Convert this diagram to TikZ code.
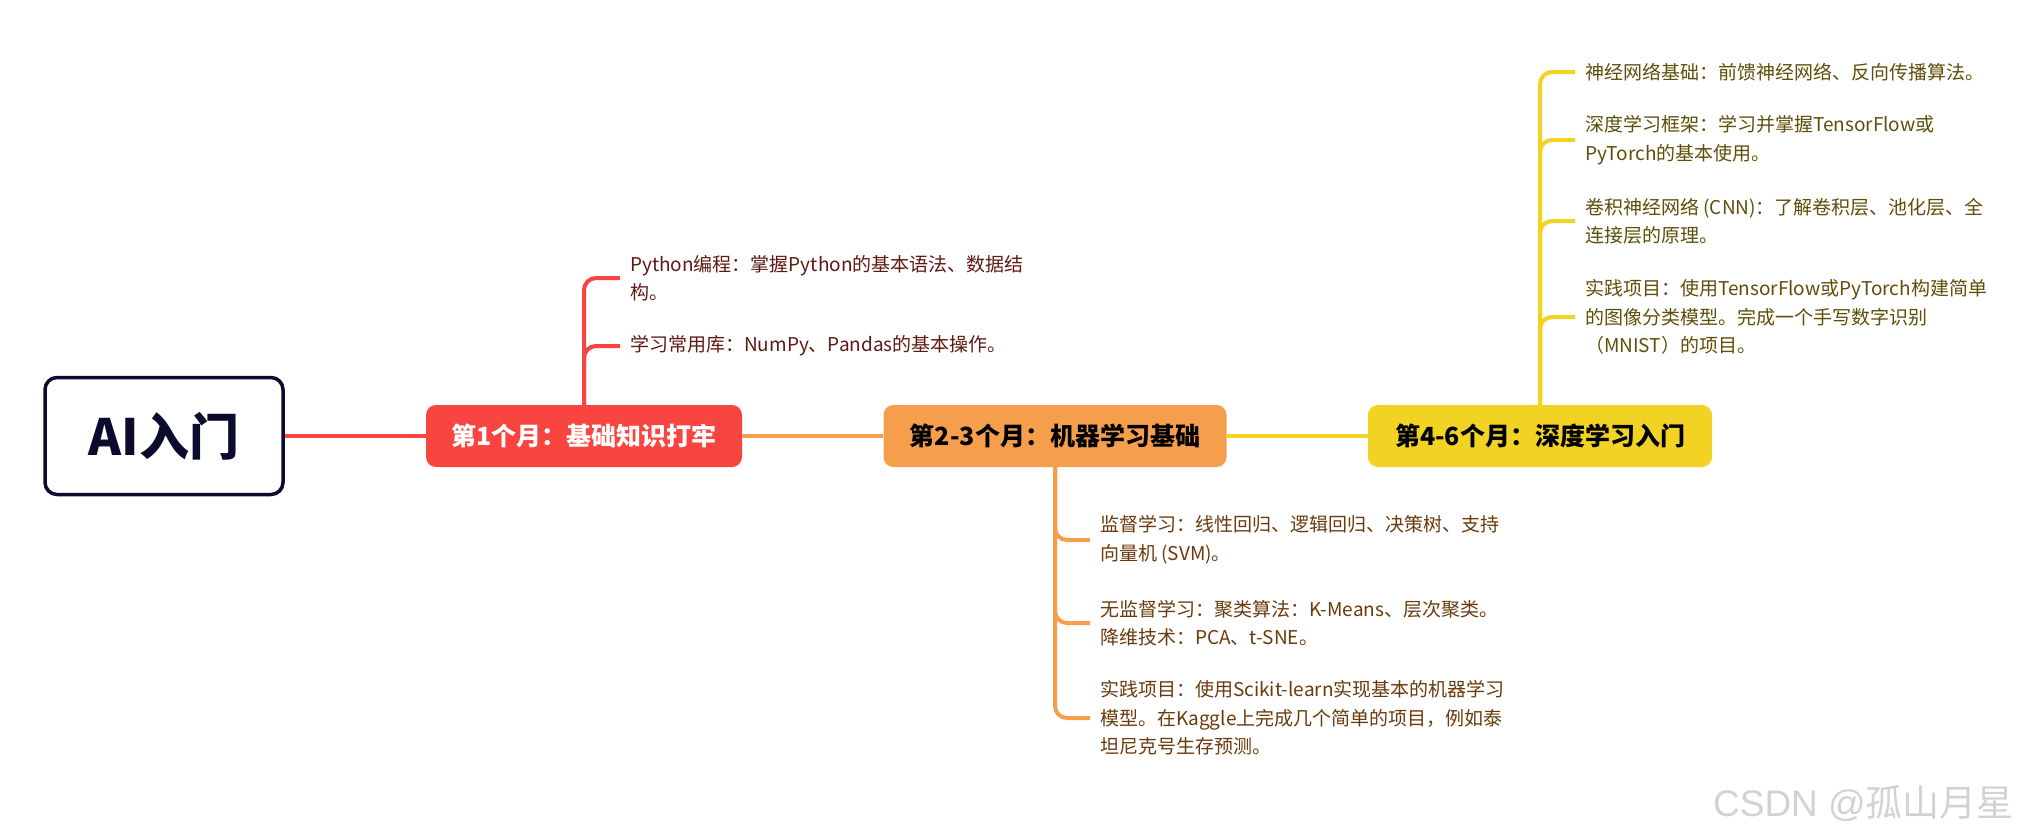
\documentclass[tikz,border=0pt]{standalone}
\usepackage{fontspec}
\setmainfont{Noto Sans CJK SC}
\newfontfamily\wmlatin{Liberation Sans}
\definecolor{cred}{HTML}{F9453F}
\definecolor{corange}{HTML}{F59E4C}
\definecolor{cyellow}{HTML}{F2D323}
\definecolor{cnavy}{HTML}{0B0B2E}
\definecolor{tred}{HTML}{5E1A12}
\definecolor{torange}{HTML}{6A3A0C}
\definecolor{tyellow}{HTML}{5E4E08}
\definecolor{wm}{HTML}{D2D2D2}
\tikzset{
  rootbox/.style={draw=cnavy, line width=3.5pt, rounded corners=12pt, minimum width=238pt, minimum height=117pt, text=cnavy, font=\fontsize{50}{50}\selectfont\bfseries, inner sep=0pt},
  mbox/.style={rounded corners=10pt, minimum height=62pt, inner sep=0pt, font=\fontsize{25}{25}\selectfont\bfseries},
  leaf/.style={anchor=west, align=left, inner sep=0pt, font=\fontsize{19}{28.5}\selectfont},
  link/.style={line width=4pt},
  branch/.style={line width=4pt, rounded corners=12pt, shorten >=10pt},
}
\begin{document}
\begin{tikzpicture}[x=1pt,y=-1pt]
\useasboundingbox (0,0) rectangle (2024,833);
% main nodes
\node[rootbox] (root) at (164,436) {AI入门};
\node[mbox, fill=cred, text=white, minimum width=316pt] (m1) at (584,436) {第1个月：基础知识打牢};
\node[mbox, fill=corange, text=black, minimum width=343pt] (m2) at (1055,436) {第2-3个月：机器学习基础};
\node[mbox, fill=cyellow, text=black, minimum width=344pt] (m3) at (1540,436) {第4-6个月：深度学习入门};
% links
\draw[link, cred] (root.east) -- (m1.west);
\draw[link, corange] (m1.east) -- (m2.west);
\draw[link, cyellow] (m2.east) -- (m3.west);
% red leaves
\node[leaf, text=tred] (r1) at (630,278) {Python编程：掌握Python的基本语法、数据结\\构。};
\node[leaf, text=tred] (r2) at (630,346) {学习常用库：NumPy、Pandas的基本操作。};
\draw[branch, cred] (m1.north) |- (r1.west);
\draw[branch, cred] (m1.north) |- (r2.west);
% orange leaves
\node[leaf, text=torange] (o1) at (1100,540) {监督学习：线性回归、逻辑回归、决策树、支持\\向量机 (SVM)。};
\node[leaf, text=torange] (o2) at (1100,623) {无监督学习：聚类算法：K-Means、层次聚类。\\降维技术：PCA、t-SNE。};
\node[leaf, text=torange] (o3) at (1100,718) {实践项目：使用Scikit-learn实现基本的机器学习\\模型。在Kaggle上完成几个简单的项目，例如泰\\坦尼克号生存预测。};
\draw[branch, corange] (m2.south) |- (o1.west);
\draw[branch, corange] (m2.south) |- (o2.west);
\draw[branch, corange] (m2.south) |- (o3.west);
% yellow leaves
\node[leaf, text=tyellow] (y1) at (1585,72) {神经网络基础：前馈神经网络、反向传播算法。};
\node[leaf, text=tyellow] (y2) at (1585,140) {深度学习框架：学习并掌握TensorFlow或\\PyTorch的基本使用。};
\node[leaf, text=tyellow] (y3) at (1585,221) {卷积神经网络 (CNN)：了解卷积层、池化层、全\\连接层的原理。};
\node[leaf, text=tyellow] (y4) at (1585,317) {实践项目：使用TensorFlow或PyTorch构建简单\\的图像分类模型。完成一个手写数字识别\\（MNIST）的项目。};
\draw[branch, cyellow] (m3.north) |- (y1.west);
\draw[branch, cyellow] (m3.north) |- (y2.west);
\draw[branch, cyellow] (m3.north) |- (y3.west);
\draw[branch, cyellow] (m3.north) |- (y4.west);
% watermark
\node[anchor=east, inner sep=0pt, text=wm, font=\fontsize{37}{37}\selectfont] (wmk) at (2014,803) {{\wmlatin CSDN @}孤山月星};
\end{tikzpicture}
\end{document}
